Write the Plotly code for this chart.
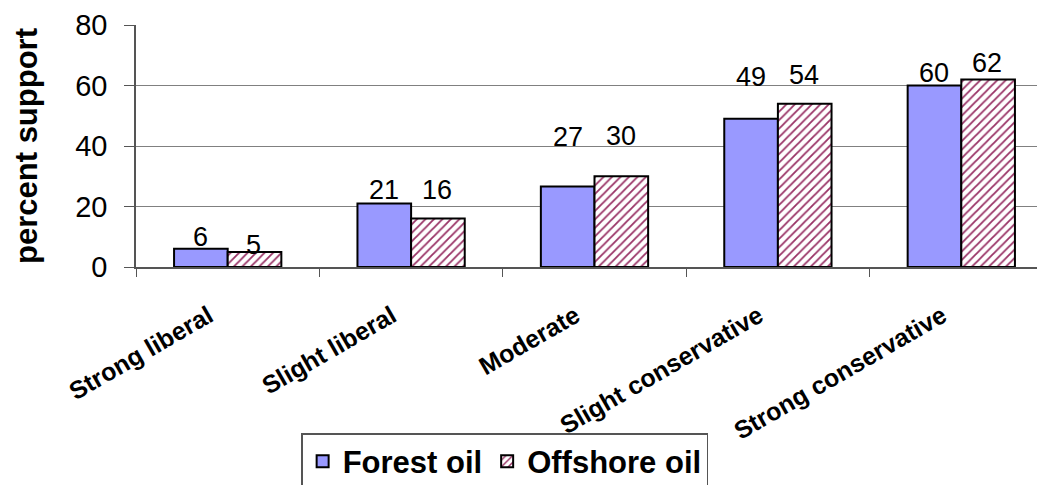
import plotly.graph_objects as go

categories = ["Strong liberal", "Slight liberal", "Moderate", "Slight conservative", "Strong conservative"]
forest_oil = [6, 21, 26.6, 49, 60]
offshore_oil = [5, 16, 30, 54, 62]
y_ticks = [0, 20, 40, 60, 80]

# label pixel offsets (style only)
forest_label_shift = [-5, -4, 33, 25, -4]
offshore_label_shift = [-10, 12, 23, 12, -1]

FONT = "Liberation Sans, Arial, sans-serif"

fig = go.Figure()
fig.add_trace(go.Bar(
    name="<b>Forest oil</b>", x=categories, y=forest_oil,
    marker=dict(color="#9999FF", line=dict(color="black", width=2)),
))
fig.add_trace(go.Bar(
    name="<b>Offshore oil</b>", x=categories, y=offshore_oil,
    marker=dict(color="white", line=dict(color="black", width=2),
                pattern=dict(shape="/", fgcolor="#993366", bgcolor="white",
                             size=6, solidity=0.3, fillmode="replace")),
))

annots = []
for vals, shifts, xs in [(forest_oil, forest_label_shift, -27), (offshore_oil, offshore_label_shift, 26)]:
    for c, v, s in zip(categories, vals, shifts):
        annots.append(dict(x=c, y=v, xref="x", yref="y", text=f"{round(v)}",
                           showarrow=False, xshift=xs, yshift=s, yanchor="bottom",
                           font=dict(family=FONT, size=27, color="black")))
annots.append(dict(x=-0.1200, y=0.5, xref="paper", yref="paper", text="<b>percent support</b>",
                   textangle=-90, showarrow=False, xanchor="center", yanchor="middle",
                   borderpad=0,
                   font=dict(family=FONT, size=31, color="black")))

fig.update_layout(
    template="none",
    width=1045, height=485,
    margin=dict(l=128, r=0, t=17, b=226, autoexpand=False),
    paper_bgcolor="white", plot_bgcolor="white",
    barmode="group", bargap=0.415, bargroupgap=0,
    annotations=annots,
    showlegend=True,
    legend=dict(orientation="h", x=0.402, xanchor="center", y=-0.686, yanchor="top",
                bordercolor="#555555", borderwidth=1.5, bgcolor="white",
                font=dict(family=FONT, size=31, color="black"),
                itemsizing="constant"),
    font=dict(family=FONT, color="black"),
)
fig.update_xaxes(
    automargin=False,
    range=[-0.5, 4.5], tickangle=-30, tickson="boundaries",
    ticks="outside", ticklen=8, tickcolor="#555555",
    showline=True, linecolor="#555555", linewidth=1.5,
    tickfont=dict(family=FONT, size=25, color="black"),
    tickvals=categories, ticktext=[f"<b>{c}</b>" for c in categories],
    ticklabelshift=-19, ticklabelstandoff=23,
    showgrid=False,
)
fig.update_yaxes(
    automargin=False,
    range=[0, 80], tickvals=y_ticks, ticks="outside", ticklen=10, tickcolor="#555555",
    showline=True, linecolor="#555555", linewidth=1.5,
    showgrid=True, gridcolor="#808080", gridwidth=1,
    zeroline=False, ticklabelstandoff=11,
    tickfont=dict(family=FONT, size=29, color="black"),
)

fig.write_html("out.html")
